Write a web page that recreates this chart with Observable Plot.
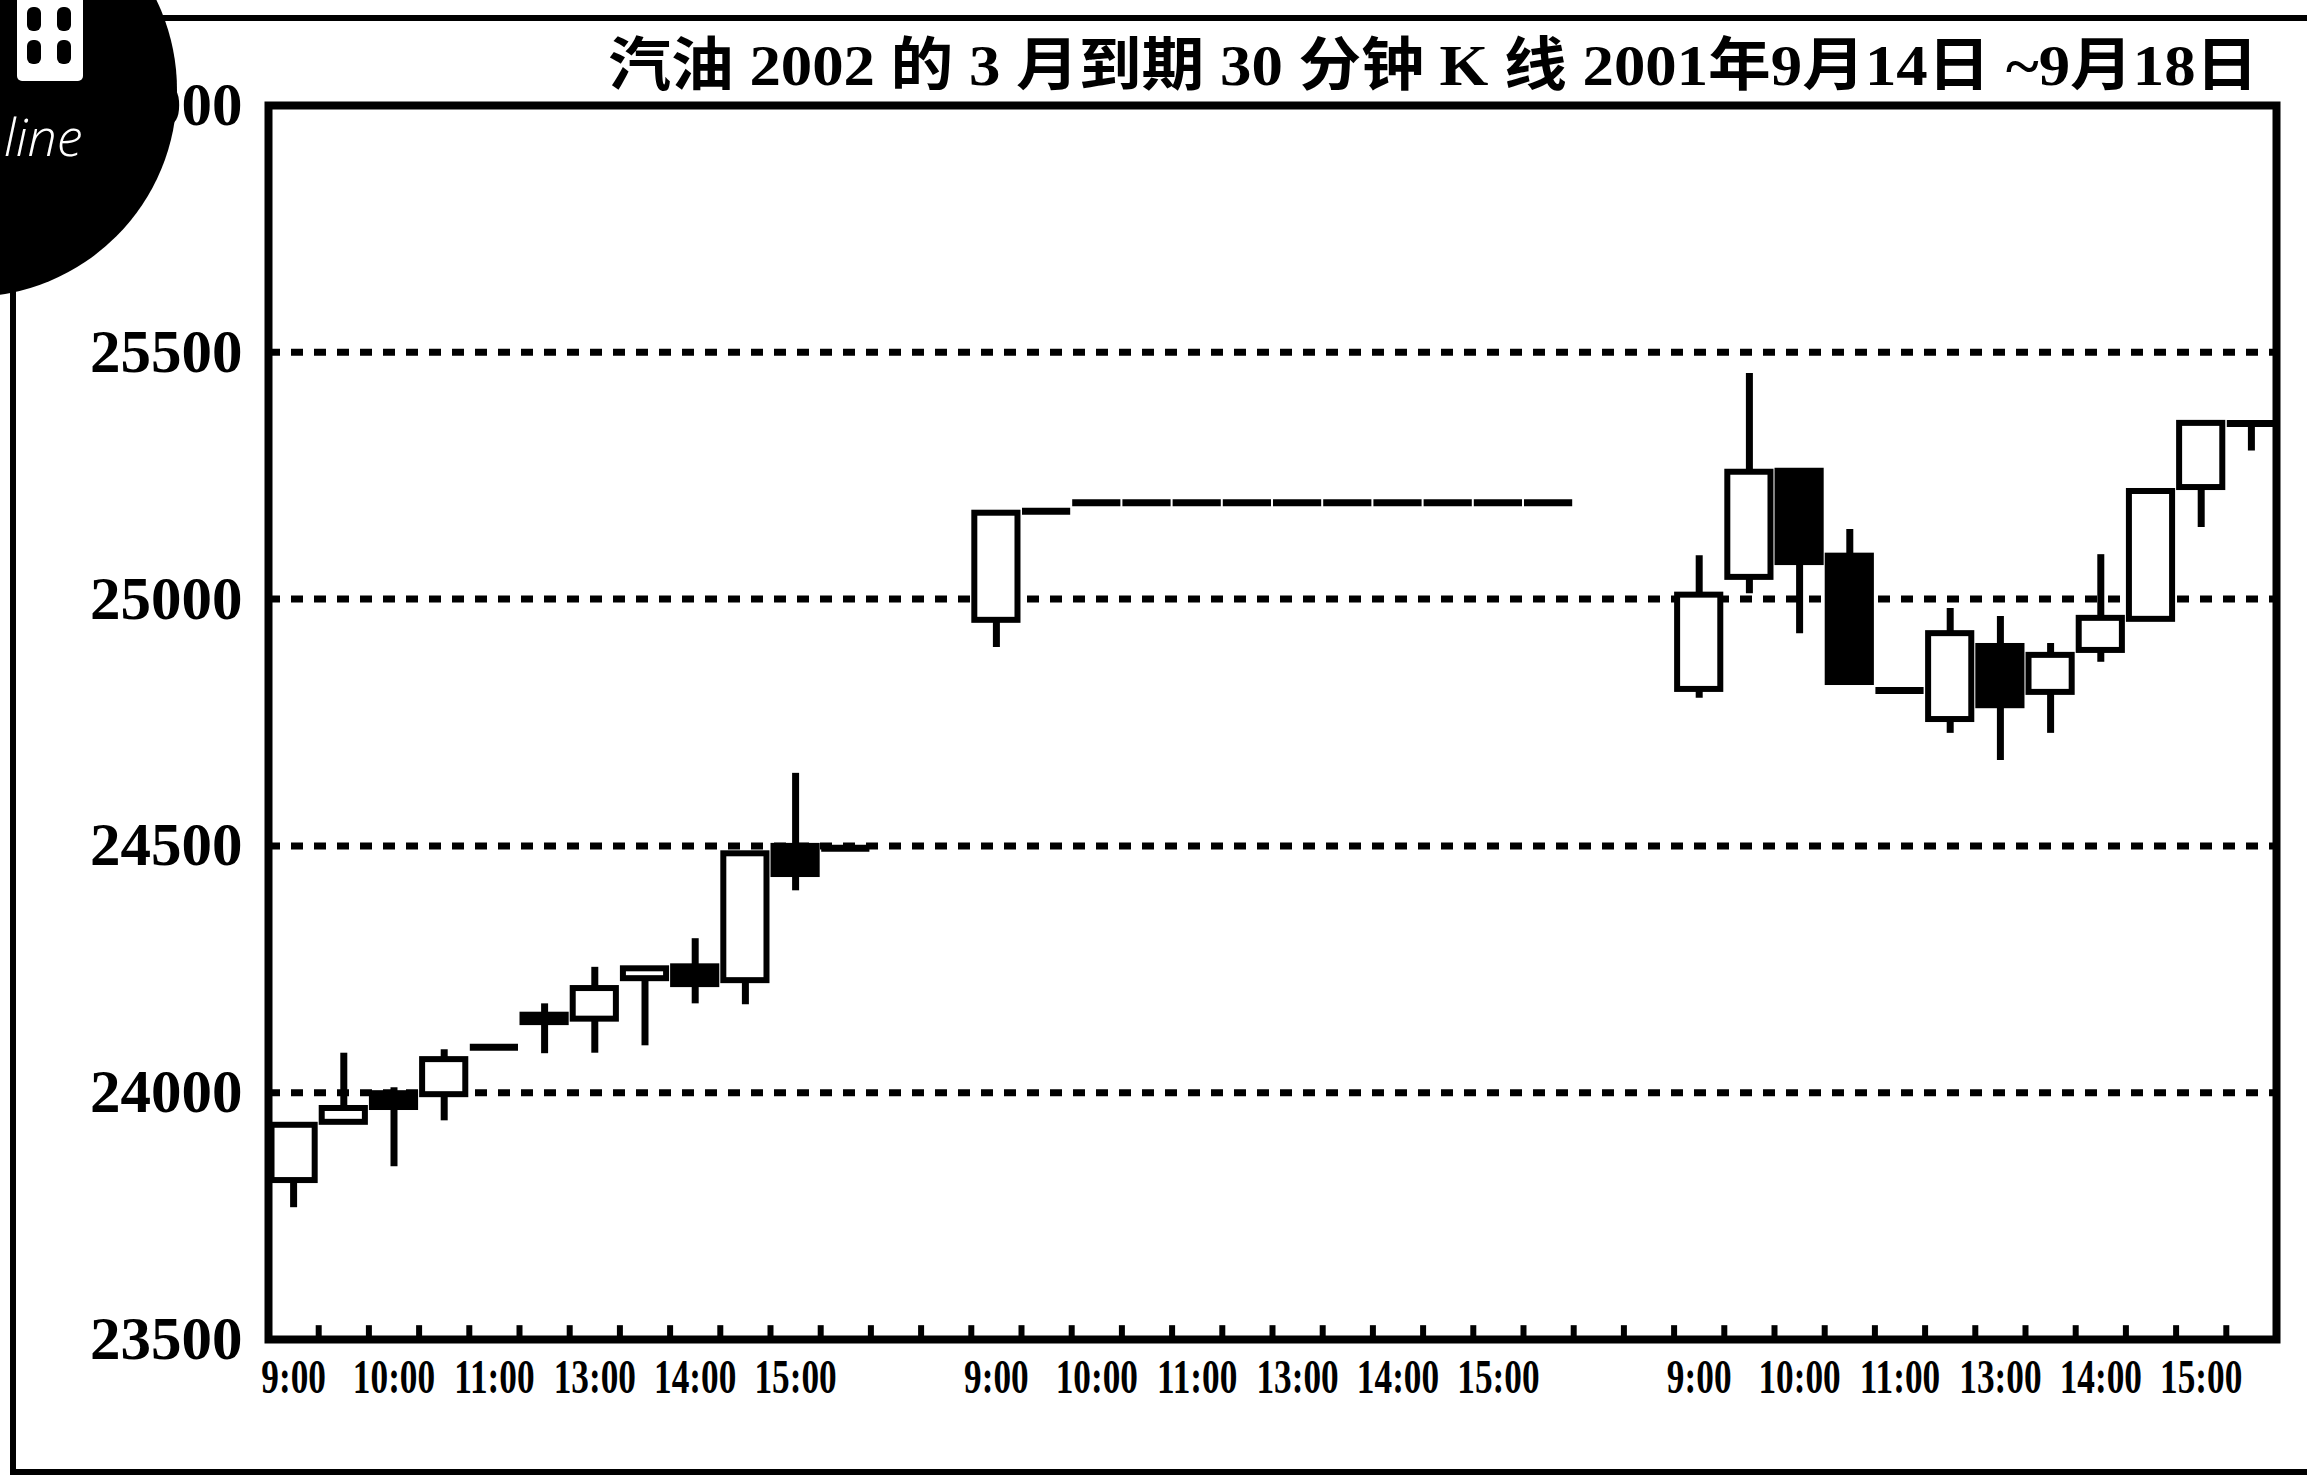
<!DOCTYPE html>
<html>
<head>
<meta charset="utf-8">
<script src="https://cdn.jsdelivr.net/npm/d3@7"></script>
<script src="https://cdn.jsdelivr.net/npm/@observablehq/plot@0.6"></script>
<style>
  html, body { margin: 0; padding: 0; background: #fff; width: 2307px; height: 1475px; overflow: hidden; }
  #wrap { position: relative; width: 2307px; height: 1475px; overflow: hidden; }
  #box { position: absolute; left: 10px; top: 15px; width: 2400px; height: 1460px; border: 6px solid #000; box-sizing: border-box; }
  #title { position: absolute; right: 49px; top: 37px; height: 58px; line-height: 58px; font-size: 58px; font-weight: bold;
           font-family: "Liberation Serif", "Noto Sans CJK SC", serif; white-space: nowrap; transform-origin: right center; color: #000; }
  #chart { position: absolute; left: 0; top: 0; }
  #logo { position: absolute; left: -237px; top: -117px; width: 414px; height: 414px; border-radius: 50%; background: #000; z-index: 5; }
  #logo .txt { position: absolute; left: 241px; top: 227px; color: #fff; font-family: "Open Sans", sans-serif; font-style: italic; font-weight: 300; font-size: 52px; line-height: 52px; }
  #logo .icon { position: absolute; left: 254px; top: 112px; width: 66px; height: 86px; background: #fff; border-radius: 0 0 5px 5px; }
  #logo .icon i { position: absolute; width: 14px; height: 24px; background: #000; border-radius: 6px; }
</style>
</head>
<body>
<div id="wrap">
  <div id="box"></div>
  <div id="title">汽油 2002 的 3 月到期 30 分钟 K 线 2001年9月14日 ~9月18日</div>
  <div id="chart"></div>
  <div id="logo">
    <div class="icon"><i style="left:10px;top:12px"></i><i style="left:40px;top:12px"></i><i style="left:10px;top:45px"></i><i style="left:40px;top:45px"></i></div>
    <div class="txt">line</div>
  </div>
</div>
<script>
// ---- data ----
const days = ["9月14日", "9月17日", "9月18日"];
const barTimes = ["9:00", "9:30", "10:00", "10:30", "11:00", "11:30", "13:00", "13:30", "14:00", "14:30", "15:00", "15:30"];
const labelTimes = ["9:00", "10:00", "11:00", "13:00", "14:00", "15:00"];
const gapSlots = 2; // empty slots between trading days

const openPrices = [
  23822, 23940, 23998, 23996, 24092, 24157, 24149, 24231, 24255, 24227, 24499, 24495,
  24957, 25178, 25195, 25195, 25195, 25195, 25195, 25195, 25195, 25195, 25195, 25195,
  24817, 25044, 25259, 25087, 24815, 24756, 24904, 24811, 24896, 24959, 25226, 25356
];
const highPrices = [
  23934, 24080, 24010, 24087, 24092, 24180, 24254, 24251, 24312, 24484, 24647, 24495,
  25174, 25178, 25195, 25195, 25195, 25195, 25195, 25195, 25195, 25195, 25195, 25195,
  25088, 25457, 25259, 25141, 24815, 24981, 24965, 24910, 25090, 25218, 25356, 25356
];
const lowPrices = [
  23767, 23940, 23850, 23943, 24092, 24079, 24080, 24095, 24180, 24178, 24409, 24495,
  24902, 25178, 25195, 25195, 25195, 25195, 25195, 25195, 25195, 25195, 25195, 25195,
  24799, 25011, 24930, 24831, 24815, 24728, 24673, 24728, 24872, 24959, 25145, 25300
];
const closePrices = [
  23934, 23968, 23970, 24067, 24092, 24142, 24211, 24251, 24219, 24484, 24442, 24495,
  25174, 25178, 25195, 25195, 25195, 25195, 25195, 25195, 25195, 25195, 25195, 25195,
  25008, 25257, 25074, 24831, 24815, 24930, 24784, 24886, 24961, 25218, 25356, 25356
];
const yTicks = [23500, 24000, 24500, 25000, 25500, 26000];
const gridValues = [24000, 24500, 25000, 25500];

// ---- build table ----
const perDay = barTimes.length;
const bars = [];
days.forEach((day, d) => {
  barTimes.forEach((t, b) => {
    const k = d * perDay + b;
    bars.push({day, time: t, slot: d * (perDay + gapSlots) + b,
      open: openPrices[k], high: highPrices[k], low: lowPrices[k], close: closePrices[k]});
  });
});
const nSlots = days.length * perDay + (days.length - 1) * gapSlots;
const labelBars = bars.filter(b => labelTimes.includes(b.time));
const labelMap = new Map(labelBars.map(b => [b.slot, b.time]));
const boundaries = d3.range(0.5, nSlots - 1, 1);
const half = 0.43;
const bodies = bars.filter(b => b.open !== b.close);
const flats = bars.filter(b => b.open === b.close);

const chart = Plot.plot({
  width: 2307,
  height: 1475,
  marginLeft: 268,
  marginRight: 31,
  marginTop: 105,
  marginBottom: 136,
  style: {fontFamily: "Liberation Serif", fontWeight: "bold", background: "transparent", color: "#000"},
  x: {domain: [-0.5, nSlots - 0.5], ticks: labelBars.map(b => b.slot), tickFormat: s => labelMap.get(s), tickSize: 0, tickPadding: 19, label: null},
  y: {domain: [23500, 26000], ticks: yTicks, tickFormat: d3.format("d"), tickSize: 0, tickPadding: 26, label: null},
  marks: [
    Plot.ruleY(gridValues, {stroke: "#000", strokeWidth: 7, strokeDasharray: "12,11"}),
    Plot.ruleX(boundaries, {x: d => d, y1: 23500, y2: 23528, stroke: "#000", strokeWidth: 6}),
    Plot.ruleX(bars, {x: "slot", y1: "low", y2: "high", stroke: "#000", strokeWidth: 7}),
    Plot.rect(bodies, {x1: b => b.slot - half, x2: b => b.slot + half, y1: "open", y2: "close",
      fill: b => b.close > b.open ? "#fff" : "#000", stroke: "#000", strokeWidth: 6}),
    Plot.ruleY(flats, {y: "close", x1: b => b.slot - half - 0.05, x2: b => b.slot + half + 0.05, stroke: "#000", strokeWidth: 7}),
    Plot.frame({stroke: "#000", strokeWidth: 8})
  ]
});
document.getElementById("chart").appendChild(chart);

// style axis labels
d3.select(chart).selectAll("text").each(function() {
  const t = this.textContent;
  if (t.includes(":")) {
    this.style.fontSize = "49px";
    this.style.fontFamily = "Liberation Serif";
    this.style.fontWeight = "bold";
    const x = +this.getAttribute("x") || 0;
    const tr = this.getAttribute("transform");
    this.setAttribute("transform", (tr ? tr + " " : "") + `translate(${x},0) scale(0.72,1) translate(${-x},0)`);
  } else if (/^\d+$/.test(t)) {
    this.style.fontSize = "61px";
    this.style.fontFamily = "Liberation Serif";
    this.style.fontWeight = "bold";
  }
});

// fit title width to the reference span
const title = document.getElementById("title");
const w = title.getBoundingClientRect().width;
title.style.transform = `scaleX(${1650 / w})`;
</script>
</body>
</html>
